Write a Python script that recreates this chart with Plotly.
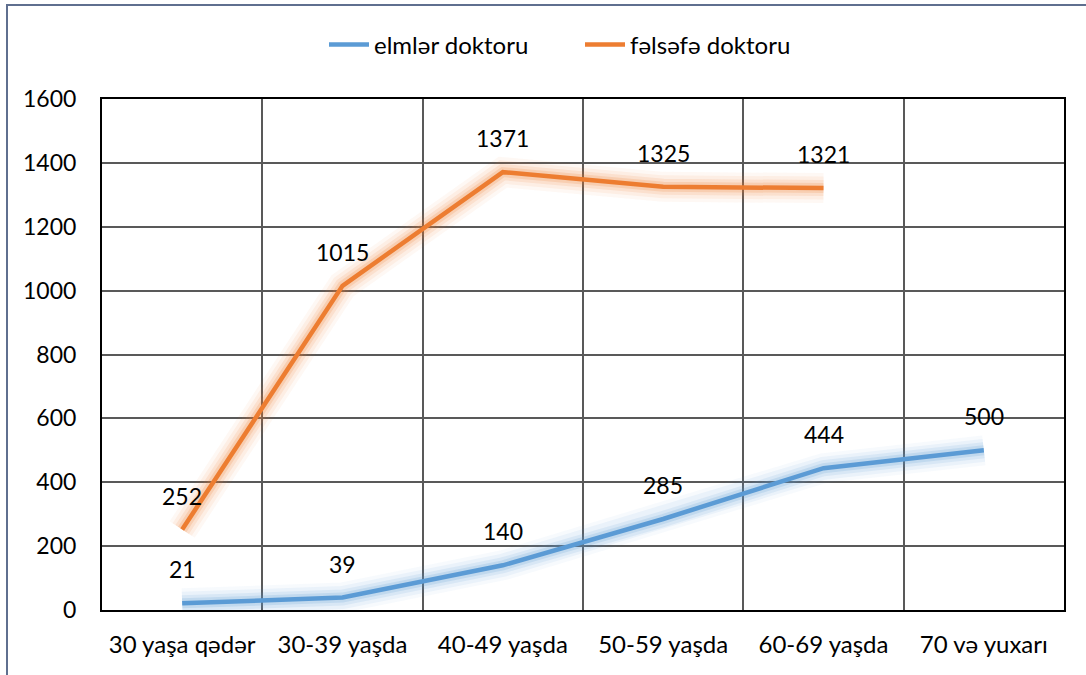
import plotly.graph_objects as go

categories = ["30 yaşa qədər", "30-39 yaşda", "40-49 yaşda", "50-59 yaşda", "60-69 yaşda", "70 və yuxarı"]
elmler_doktoru = [21, 39, 140, 285, 444, 500]
felsefe_doktoru = [252, 1015, 1371, 1325, 1321]
series_names = ["elmlər doktoru", "fəlsəfə doktoru"]
y_ticks = [0, 200, 400, 600, 800, 1000, 1200, 1400, 1600]

BLUE = "#5b9bd5"
ORANGE = "#ed7d31"
FONT = "Lato"

fig = go.Figure()

series = [
    (categories, elmler_doktoru, series_names[0], BLUE, (91, 155, 213)),
    (categories[:len(felsefe_doktoru)], felsefe_doktoru, series_names[1], ORANGE, (237, 125, 49)),
]

# glow layers
for xs, ys, name, col, rgb in series:
    for w, a in [(30, 0.05), (23, 0.08), (16, 0.12), (10, 0.18)]:
        fig.add_trace(go.Scatter(
            x=xs, y=ys, mode="lines", showlegend=False, hoverinfo="skip",
            line=dict(color=f"rgba({rgb[0]},{rgb[1]},{rgb[2]},{a})", width=w),
        ))

for xs, ys, name, col, rgb in series:
    fig.add_trace(go.Scatter(
        x=xs, y=ys, mode="lines", name=name,
        line=dict(color=col, width=4.5),
    ))

annotations = []
for xs, ys, name, col, rgb in series:
    for xv, yv in zip(xs, ys):
        annotations.append(dict(
            x=xv, y=yv, xref="x", yref="y", text=str(yv), showarrow=False,
            yshift=34, font=dict(family=FONT, size=23, color="#000000"),
        ))

W, H = 1086, 675
L, R, T, B = 102, 22, 99, 65
pw, ph = W - L - R, H - T - B

def px(xp):
    return (xp - L) / pw

def py(yp):
    return (H - B - yp) / ph

border_col = "#5f6f8f"
shapes = [
    dict(type="line", xref="paper", yref="paper", x0=px(7), x1=px(7), y0=py(H + 5), y1=py(5),
         line=dict(color=border_col, width=2)),
    dict(type="line", xref="paper", yref="paper", x0=px(6), x1=px(W + 5), y0=py(5), y1=py(5),
         line=dict(color=border_col, width=2)),
]

fig.update_layout(
    width=W, height=H,
    margin=dict(l=L, r=R, t=T, b=B, autoexpand=False),
    paper_bgcolor="white", plot_bgcolor="white",
    font=dict(family=FONT, size=23, color="#000000"),
    showlegend=True,
    legend=dict(orientation="h", xref="container", yref="container",
                x=324 / W, xanchor="left", y=1 - 45 / H, yanchor="middle",
                font=dict(family=FONT, size=24, color="#000000"), itemwidth=40,
                entrywidth=201, entrywidthmode="pixels",
                bgcolor="rgba(0,0,0,0)"),
    annotations=annotations,
    shapes=shapes,
)

fig.update_xaxes(
    type="category", categoryorder="array", categoryarray=categories,
    range=[-0.5, len(categories) - 0.5],
    tickson="boundaries", ticks="", showgrid=True, gridcolor="#595959", gridwidth=1.5,
    showline=True, linecolor="#000000", linewidth=2, mirror=True, automargin=False,
    ticklabelstandoff=12, tickfont=dict(family=FONT, size=24, color="#000000"),
    fixedrange=True,
)
fig.update_yaxes(
    range=[0, 1600], tickvals=y_ticks, ticks="", showgrid=True, gridcolor="#595959", gridwidth=1.5,
    zeroline=False, showline=True, linecolor="#000000", linewidth=2, mirror=True, automargin=False,
    ticklabelstandoff=19, tickfont=dict(family=FONT, size=23, color="#000000"),
    fixedrange=True,
)

fig.write_html(
    "out.html",
    config={"displayModeBar": False},
    post_script="document.body.style.margin='0';document.body.style.overflow='hidden';",
)
